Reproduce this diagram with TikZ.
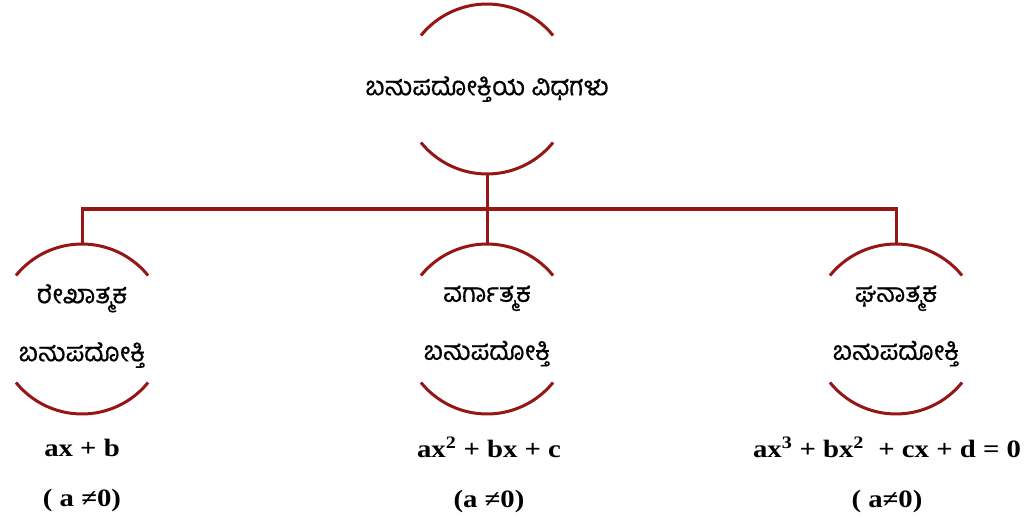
\documentclass[tikz,border=0pt]{standalone}
\usepackage{fontspec}
\setmainfont{Liberation Serif}
\newfontfamily\kannada[Script=Kannada, FakeBold=0.6]{Hind Mysuru}
\newfontfamily\formulafont[FakeStretch=1.15]{Liberation Serif}
\usetikzlibrary{positioning}
\definecolor{darkmaroon}{RGB}{150,22,22}

\begin{document}
\begin{tikzpicture}[x=1pt, y=1pt,
kind/.style={circle, minimum size=170pt, inner sep=0pt, outer sep=0pt, on grid},
kindtext/.style={align=center, font=\kannada\fontsize{26}{58}\selectfont},
formula/.style={align=center, on grid, font=\formulafont\bfseries\fontsize{25}{50}\selectfont},
rim/.style={draw=darkmaroon, line width=3pt},
link/.style={draw=darkmaroon, line width=3pt}
]
\useasboundingbox (0,0) rectangle (1036,515);

% Top node
\node[kind, label={[kindtext]center:ಬಹುಪದೋಕ್ತಿಯ ವಿಧಗಳು}] (types) at (487,426) {};

% Three kinds
\node[kind, below=240pt of types, label={[kindtext, yshift=3pt]center:ವರ್ಗಾತ್ಮಕ\\ಬಹುಪದೋಕ್ತಿ}] (quadratic) {};
\node[kind, left=405pt of quadratic, label={[kindtext, yshift=3pt]center:ರೇಖಾತ್ಮಕ\\ಬಹುಪದೋಕ್ತಿ}] (linear) {};
\node[kind, right=409pt of quadratic, label={[kindtext, yshift=3pt]center:ಘನಾತ್ಮಕ\\ಬಹುಪದೋಕ್ತಿ}] (cubic) {};

% Arcs round every node
\foreach \n in {types, linear, quadratic, cubic} {
  \draw[rim] (\n.39) arc[start angle=39, end angle=141, radius=85pt];
  \draw[rim] (\n.219) arc[start angle=219, end angle=321, radius=85pt];
}

% General forms
\node[formula, below=146pt of linear] (linearform) {ax + b\\( a ≠0)};
\node[formula, below=146pt of quadratic, xshift=2pt] (quadraticform) {ax\textsuperscript{2} + bx + c\\(a ≠0)};
\node[formula, below=146pt of cubic, xshift=-9pt] (cubicform) {ax\textsuperscript{3} + bx\textsuperscript{2}\ \ + cx + d = 0\\( a≠0)};

% Tree lines
\coordinate[below=35pt of types.south] (junction);
\draw[link] (types.south) -- (junction);
\draw[link] (linear.north) |- (junction) -| (cubic.north);
\draw[link] (quadratic.north) -- (quadratic.north |- junction);

\end{tikzpicture}
\end{document}
